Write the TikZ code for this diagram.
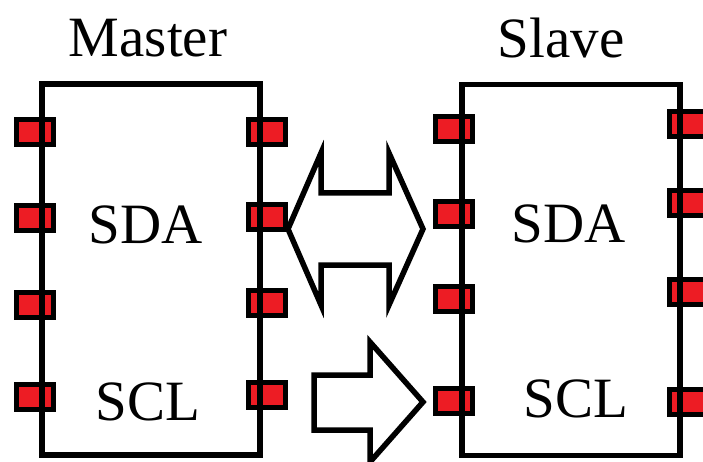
\documentclass[tikz,border=0pt]{standalone}
\usepackage{fontspec}
\setmainfont{Liberation Serif}
\definecolor{padRed}{HTML}{ED1C24}
\usetikzlibrary{positioning}

\begin{document}
\begin{tikzpicture}[
                x=1pt, y=-1pt,
                chipbox/.style={draw=black, line width=5.5pt, inner sep=0pt,
                                minimum width=218pt, minimum height=371pt},
                padbox/.style={draw=black, fill=padRed, line width=5pt, inner sep=0pt,
                               minimum width=37pt, minimum height=25pt},
                chiplabel/.style={font=\fontsize{57}{57}\selectfont, anchor=base, inner sep=0pt},
                busarrow/.style={draw=black, fill=white, line width=5.5pt, line join=miter}
            ]
                \useasboundingbox (0,0) rectangle (703,462);
                % pads first, the chip outline runs over them
                \foreach \y [count=\i] in {132,218,305,397}
                    \node[padbox] (ml\i) at (34.5,\y) {};
                \foreach \y [count=\i] in {132,217,303,395}
                    \node[padbox] (mr\i) at (267,\y) {};
                \foreach \y [count=\i] in {129,214,299,401}
                    \node[padbox] (sl\i) at (453.5,\y) {};
                \foreach \y [count=\i] in {124,203,292,402}
                    \node[padbox] (sr\i) at (688,\y) {};
                \node[chipbox] (master) at (151,269.5) {};
                \node[chipbox] (slave) at (571,270) {};
                \node[chiplabel] (masterTitle) at (148,57) {Master};
                \node[chiplabel] (slaveTitle) at (561,58) {Slave};
                \node[chiplabel] (masterSDA) at (146,243) {SDA};
                \node[chiplabel] (masterSCL) at (148,420) {SCL};
                \node[chiplabel] (slaveSDA) at (569,242) {SDA};
                \node[chiplabel] (slaveSCL) at (576,417) {SCL};
                % data line, both ways
                \draw[busarrow] (288,229) -- (321,153) -- (321,193) -- (389,193) -- (389,153)
                    -- (423,229) -- (389,305) -- (389,265) -- (321,265) -- (321,305) -- cycle;
                % clock line, master to slave
                \draw[busarrow] (314,375) -- (370,375) -- (370,342) -- (423,402)
                    -- (370,462) -- (370,430) -- (314,430) -- cycle;
            \end{tikzpicture}
\end{document}
